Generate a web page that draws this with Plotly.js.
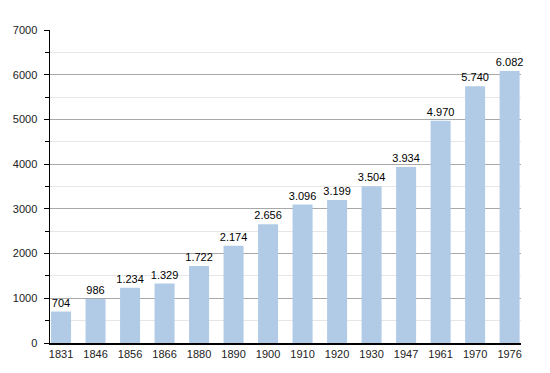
<!DOCTYPE html>
<html><head><meta charset="utf-8">
<script src="https://cdn.plot.ly/plotly-3.0.1.min.js"></script>
<style>html,body{margin:0;padding:0;background:#fff}#c{width:550px;height:373px}</style>
</head><body><div id="c"></div>
<script>
var years = ["1831","1846","1856","1866","1880","1890","1900","1910","1920","1930","1947","1961","1970","1976"];
var population = [704, 986, 1234, 1329, 1722, 2174, 2656, 3096, 3199, 3504, 3934, 4970, 5740, 6082];
var yTicks = [0, 1000, 2000, 3000, 4000, 5000, 6000, 7000];

var trace = {
  type: 'bar', x: years, y: population,
  marker: {color: '#b1cbe7', line: {width: 0}},
  texttemplate: '%{y:,}', textposition: 'outside', cliponaxis: false, constraintext: 'none',
  textfont: {family: 'Liberation Sans, Arial, sans-serif', size: 11, color: '#000'},
  hoverinfo: 'none'
};
var layout = {
  width: 550, height: 373,
  margin: {l: 50, r: 29, t: 30, b: 30},
  separators: ',.',
  paper_bgcolor: '#fff', plot_bgcolor: '#fff',
  showlegend: false, bargap: 0.42,
  font: {family: 'Liberation Sans, Arial, sans-serif', size: 11, color: '#000'},
  xaxis: {type: 'category', range: [-0.32, 13.33], showline: true, linecolor: '#000', linewidth: 1.5,
          ticks: '', showgrid: false, tickfont: {size: 11, color: '#222'}, zeroline: false},
  yaxis: {range: [0, 7000], tickvals: yTicks, ticktext: yTicks.map(String), showline: true, linecolor: '#000', linewidth: 1.5,
          ticks: 'outside', ticklen: 5, tickcolor: '#000', showgrid: true, gridcolor: '#a8a8a8', gridwidth: 1,
          zeroline: false, tickfont: {size: 11, color: '#222'}, ticklabelstandoff: 4,
          minor: {dtick: 500, tick0: 500, showgrid: true, gridcolor: '#e6e6e6', ticks: 'outside', ticklen: 4, tickcolor: '#000'}}
};
Plotly.newPlot('c', [trace], layout, {displayModeBar: false, staticPlot: true});
</script></body></html>
